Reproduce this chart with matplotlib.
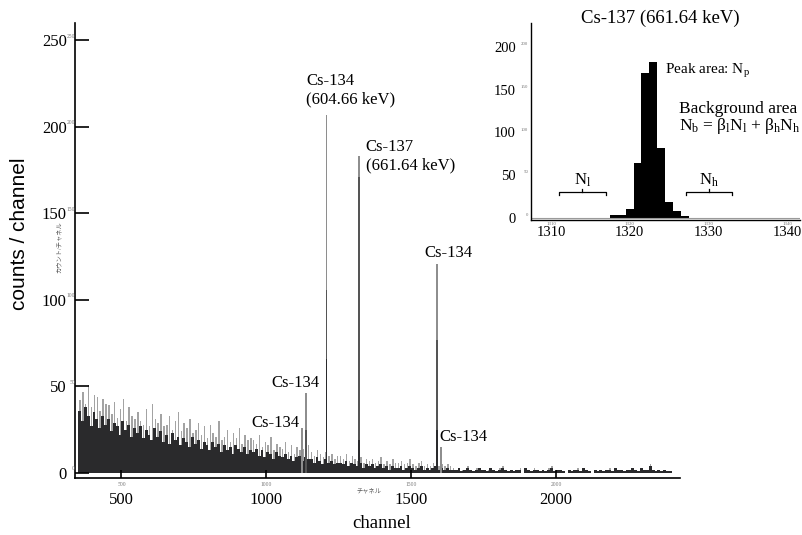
import matplotlib
matplotlib.use('Agg')
import matplotlib.pyplot as plt
import numpy as np

# data
# background, 10-channel bins starting at channel 350
bkg_start = 350
bkg_step = 10
bkg_hi = [42, 47, 40, 51, 38, 45, 44, 36, 43, 40,
          39, 34, 41, 32, 37, 43, 30, 38, 33, 31,
          35, 30, 28, 37, 27, 40, 31, 29, 34, 27,
          28, 33, 25, 30, 35, 24, 29, 26, 31, 23,
          25, 29, 22, 27, 20, 28, 23, 21, 30, 19,
          21, 25, 18, 23, 20, 26, 17, 22, 19, 20,
          19, 17, 22, 15, 18, 16, 21, 13, 17, 15,
          14, 18, 12, 16, 11, 15, 13, 14, 12, 16,
          12, 10, 13, 11, 9, 12, 10, 11, 8, 10,
          10, 8, 11, 7, 10, 8, 7, 9, 6, 8,
          7, 8, 6, 7, 9, 5, 7, 5, 8, 6,
          6, 7, 5, 6, 8, 5, 4, 6, 7, 4,
          5, 4, 6, 7, 4, 5, 4, 5, 4, 3,
          2, 3, 2, 2, 4, 2, 1, 3, 3, 2,
          2, 2, 3, 2, 1, 3, 4, 2, 1, 2,
          1, 2, 3, 0, 3, 2, 1, 3, 2, 1,
          2, 1, 3, 4, 1, 2, 2, 1, 0, 2,
          1, 2, 3, 1, 3, 2, 1, 0, 2, 1,
          2, 1, 2, 3, 1, 3, 2, 2, 1, 2,
          2, 3, 2, 1, 3, 2, 2, 5, 2, 1,
          2, 1, 2, 1, 1]
bkg_lo = [36, 30, 38, 33, 27, 35, 31, 26, 33, 28,
          31, 24, 29, 27, 22, 30, 25, 28, 21, 26,
          23, 27, 20, 25, 22, 19, 26, 21, 24, 18,
          22, 17, 23, 19, 21, 16, 20, 18, 15, 21,
          17, 19, 14, 18, 16, 13, 18, 15, 17, 12,
          16, 13, 15, 11, 16, 14, 12, 15, 11, 13,
          12, 14, 10, 13, 9, 12, 11, 8, 12, 10,
          9, 11, 8, 10, 7, 9, 10, 7, 9, 8,
          8, 6, 9, 7, 5, 8, 6, 7, 5, 6,
          6, 5, 7, 4, 6, 5, 4, 6, 3, 5,
          4, 5, 3, 4, 5, 3, 4, 2, 4, 3,
          3, 4, 2, 3, 4, 3, 2, 3, 4, 2,
          3, 2, 3, 4, 2, 3, 2, 3, 2, 2,
          2, 3, 1, 2, 3, 2, 1, 2, 3, 2,
          2, 1, 3, 2, 1, 2, 3, 2, 1, 2,
          1, 2, 2, 0, 3, 2, 1, 2, 2, 1,
          2, 1, 2, 3, 1, 2, 2, 1, 0, 2,
          1, 2, 2, 1, 3, 2, 1, 0, 2, 1,
          2, 1, 2, 2, 1, 3, 2, 2, 1, 2,
          2, 3, 2, 1, 3, 2, 2, 4, 2, 1,
          2, 1, 2, 1, 1]

# photopeaks (channel, tallest / middle / lowest overlapping channel counts)
peak_ch = [1124, 1137, 1208, 1321, 1588, 1602]
peak_top = [26, 46, 207, 183, 121, 15]
peak_mid = [0, 25, 106, 171, 77, 0]
peak_low = [0, 0, 66, 19, 25, 0]

# inset: Cs-137 peak region
inset_ch = [1318, 1319, 1320, 1321, 1322, 1323, 1324, 1325, 1326, 1327]
inset_counts = [3, 4, 11, 64, 170, 182, 82, 19, 8, 2]
nl_range = (1311, 1317)
nh_range = (1327.2, 1333)

main_xticks = [500, 1000, 1500, 2000]
main_yticks = [0, 50, 100, 150, 200, 250]
inset_xticks = [1310, 1320, 1330, 1340]
inset_yticks = [0, 50, 100, 150, 200]

# fonts
plt.rcParams['font.family'] = ['Liberation Serif', 'Noto Sans CJK JP']
plt.rcParams['mathtext.fontset'] = 'custom'
plt.rcParams['mathtext.rm'] = 'Liberation Serif'
plt.rcParams['mathtext.it'] = 'Liberation Serif:italic'
plt.rcParams['axes.linewidth'] = 1.2

W, H = 803, 535
fig = plt.figure(figsize=(W / 100, H / 100), dpi=100)

# main spectrum
ax = fig.add_axes([75 / W, 1 - 478 / H, (680 - 75) / W, (478 - 23) / H])
bkg_ch = np.array([bkg_start + bkg_step * i for i in range(len(bkg_hi))])
ax.bar(bkg_ch + 4, bkg_hi, width=5, align='edge', color='#a3a3a3', linewidth=0)
ax.bar(bkg_ch, bkg_lo, width=bkg_step, align='edge', color='#2a2a2c', linewidth=0)
ax.bar(peak_ch, peak_top, width=6, color='#8e8e8e', linewidth=0)
ax.bar(peak_ch, peak_mid, width=6, color='#555555', linewidth=0)
ax.bar(peak_ch, peak_low, width=6, color='#2a2a2c', linewidth=0)

ax.set_xlim(339.5, 2428)
ax.set_ylim(-2.9, 260)
ax.spines['top'].set_visible(False)
ax.spines['right'].set_visible(False)
ax.set_xticks(main_xticks)
ax.set_yticks(main_yticks)
ax.tick_params(axis='y', direction='in', length=10, width=1.2, pad=6, labelsize=12)
ax.tick_params(axis='x', direction='in', length=6, width=1.2, pad=10, labelsize=12)

# faint duplicate labels from the original software
for v in main_yticks:
    ax.annotate(str(v), xy=(0, v), xycoords=('axes fraction', 'data'),
                xytext=(0, 3), textcoords='offset points', ha='right', va='center',
                fontsize=4, color='#777777')
for v in main_xticks:
    ax.annotate(str(v), xy=(v, 0), xycoords=('data', 'axes fraction'),
                xytext=(0, -5), textcoords='offset points', ha='center', va='center',
                fontsize=4, color='#777777')

ax.text(1137, 231, 'Cs-134\n(604.66 keV)', ha='left', va='top', fontsize=12)
ax.text(1343, 193, 'Cs-137\n(661.64 keV)', ha='left', va='top', fontsize=12)
ax.text(1544, 127, 'Cs-134', ha='left', va='center', fontsize=12)
ax.text(1018, 52, 'Cs-134', ha='left', va='center', fontsize=12)
ax.text(949, 29, 'Cs-134', ha='left', va='center', fontsize=12)
ax.text(1597, 21, 'Cs-134', ha='left', va='center', fontsize=12)

fig.text(20 / W, 1 - 234 / H, 'counts / channel', rotation=90, ha='center', va='center',
         fontsize=15, family='Liberation Sans')
fig.text(382 / W, 1 - 523 / H, 'channel', ha='center', va='center', fontsize=13.5)
fig.text(59 / W, 1 - 247 / H, 'カウント/チャネル', rotation=90, ha='center', va='center',
         fontsize=4.5, color='#555555')
fig.text(369 / W, 1 - 491 / H, 'チャネル', ha='center', va='center', fontsize=4.5, color='#555555')

# inset
axin = fig.add_axes([531 / W, 1 - 220 / H, (800 - 531) / W, (220 - 23) / H])
axin.bar(inset_ch, inset_counts, width=1.0, color='black', linewidth=0)
axin.axhline(0, color='#9a9a9a', lw=0.8)
axin.set_xlim(1307.46, 1341.65)
axin.set_ylim(-2.3, 228)
axin.spines['top'].set_visible(False)
axin.spines['right'].set_visible(False)
axin.spines['left'].set_linewidth(1.0)
axin.spines['bottom'].set_linewidth(1.0)
axin.set_xticks(inset_xticks)
axin.set_yticks(inset_yticks)
axin.tick_params(axis='y', length=0, pad=11, labelsize=10.5)
axin.tick_params(axis='x', length=0, pad=4, labelsize=10.5)
for v in inset_yticks:
    axin.annotate(str(v), xy=(0, v), xycoords=('axes fraction', 'data'),
                  xytext=(-2, 2), textcoords='offset points', ha='right', va='center',
                  fontsize=3.5, color='#777777')
for v in inset_xticks:
    axin.annotate(str(v), xy=(v, 0), xycoords=('data', 'axes fraction'),
                  xytext=(0, -3), textcoords='offset points', ha='center', va='center',
                  fontsize=3.5, color='#777777')

for (a, b), lab in [(nl_range, r'N$_\mathrm{l}$'), (nh_range, r'N$_\mathrm{h}$')]:
    y = 31
    m = (a + b) / 2
    axin.plot([a, a, b, b], [y - 4, y, y, y - 4], color='black', lw=0.9)
    axin.plot([m, m], [y, y + 3], color='black', lw=0.9)
    axin.text(m, y + 13, lab, ha='center', va='center', fontsize=12)

fig.text(660 / W, 1 - 18 / H, 'Cs-137 (661.64 keV)', ha='center', va='center', fontsize=13.5)
fig.text(665 / W, 1 - 71 / H, r'Peak area: N$_\mathrm{p}$', ha='left', va='center', fontsize=11)
fig.text(679 / W, 1 - 109 / H, 'Background area', ha='left', va='center', fontsize=12.5)
fig.text(679 / W, 1 - 126 / H,
         r'N$_\mathrm{b}$ = β$_\mathrm{l}$N$_\mathrm{l}$ + β$_\mathrm{h}$N$_\mathrm{h}$',
         ha='left', va='center', fontsize=12.5)

fig.savefig('out.png', dpi=100)
